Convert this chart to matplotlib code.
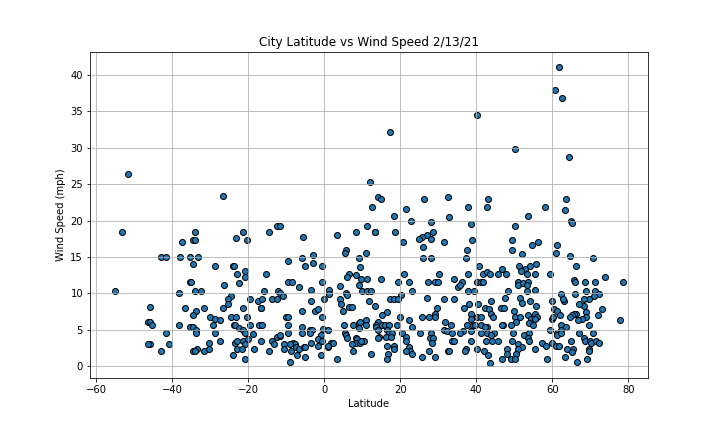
import matplotlib
matplotlib.use('Agg')
import matplotlib.pyplot as plt

# values, grouped roughly left to right
lat_south = [-53.2, -55, -46, -46.5, -46, -45.5, -41.6, -46, -46.5, -42.9, -40.9, -42.9, -41.6, -37.9, -35.3, -33.2,
             -37.6, -34.5, -34, -34, -34.7, -35.3, -35, -38.4, -34, -32.6, -36.8, -33.7, -31.8, -34.5, -38.2, -35.3,
             -34.7, -33.7, -33.7, -33.4, -34.7, -34, -31.6, -30.5, -30.3, -28.7, -26.3, -24.7, -25.3, -25.5, -26.8,
             -30, -28.7, -27.6, -29.2, -28.7, -27.4, -24.1, -23.7, -22.9, -22.4, -20.8, -20.8, -23.2, -21.3, -20.3,
             -14.7, -12.4, -15.3, -21.3, -19.5, -17.6, -16.3, -16.6, -16.8, -15.8, -13.7, -12.6, -12.1, -24.7, -23.2,
             -20.3, -23.7, -23.4, -22.6, -21.3, -21, -19.5, -17.1, -16.3, -23.4, -22.9, -21.3, -20, -18.7, -16.8, -21,
             -22.9, -21.6, -18.4, -14.7, -24.1, -20.8, -13.7, -13.2, -12.4, -11.7, -26.6, -51.8]
wind_south = [18.4, 10.3, 8.05, 6, 6, 5.7, 4.6, 3, 3, 2, 3, 15, 15, 15, 15, 15,
              17, 17.3, 17.3, 18.4, 14, 11.5, 11.5, 10.1, 10.3, 10.3, 8, 7.6, 8, 7, 5.7, 5.4,
              5.3, 4.9, 4.6, 2.4, 2, 2, 2, 3.1, 2.3, 13.7, 11.1, 9.6, 9.2, 8.5, 8,
              6.8, 6.5, 6.3, 5.7, 4.6, 3.5, 13.7, 13.7, 12.6, 11.4, 13, 12.3, 17.6, 18.4, 17.3,
              18.4, 19.2, 12.6, 8, 9.2, 9, 9.2, 8, 8, 10.3, 9.2, 9.2, 10.3, 6.8, 6.8,
              6.8, 5.6, 5.7, 5.2, 4.9, 4.6, 5.7, 5.7, 5.7, 3.2, 3.4, 3.5, 3.7, 4.4, 3.4, 3,
              2.3, 2.3, 2.3, 2, 1.5, 1, 3.4, 3, 4, 4.1, 23.4, 26.4]

lat_mid = [17.4, 12.1, 14, 15, 12.6, 26.3, 32.6, 21.6, 18.4, 22.9, 28.2, 32.9, -11.66, -5.5, 3.2, 8.4, 11.3, 13.2, 13.4,
           18.7, 28.7, 26.9, 25.8, 25, 28.2, 20.8, 31.6, 26, 26, 28.2, 5.8, 5.5, 11, 9, -2.9, -5.8, -9.7, -2.9, -5, -0.5,
           9.5, 6.6, 6, 8.2, 9.7, 11.3, 15, 21, 19.5, 22.4, 27.4, 29, 30.3, 30, 34, 35.3, -9.5, -8.4, -0.5, -6.6, -3.4,
           1.3, 1.3, 4.2, 9, 10, 11.3, 12.4, 5.8, 6, 23.2, 20.3, 27.1, 31.6, 34.2, -11.66, -11, -3.4, 0, 4.2, 4.5, 11.8,
           17.4, 18.4, 19.5, 13.4, 6.6, 7.4, 5, -6, -2.4, -1.8, 29.7, 29.2, 25.8, 27.6, 29.2, 16.6, 15.3, 20, -10, -9.7,
           -0.7, 22.4, 31.8, 33.4, -9.7, -5.8, -3.7, -3.2, -0.3, 1, 5.3, 7.6, 9.2, 9.5, 11, 11, 9.2, 14, 13.7, 15.3, 16,
           17.1, 19, 13.7, 14, 23.2, 31.6, 32.4, -9.5, -6, -3.7, -0.8, 5.5, 5.8, 6, 14.5, 14, 16.6, 17.1, 17.9, 16.3,
           17.6, 20.5, 21.6, 25.3, 28.2, 27.9, 28.7, 33.7, -11.66, -1.6, -0.5, -3.4, -10.5, -10.5, -8.2, -7.6, -9, -8.7,
           -7.4, -6.6, -5.3, -5, -1.8, 1, 1.8, 2.4, 8.2, 8.7, 8.4, 9.5, 10.5, 7.4, 9.7, 7.6, 16.6, 18.4, 18.2, 21.6, 22.4,
           22.6, 21.6, 23.2, 28.4, 27.6, 32.6, 32.9, 33.7, 34.2, 25.8, 29, 16.8, 16.6, 12.4, 3.4, -0.8, -5, -7.1, -9, 1]
wind_mid = [32.2, 25.3, 23.3, 22.9, 21.8, 22.9, 23.3, 21.6, 20.6, 19.9, 19.8, 20.5, 19.2, 17.8, 18, 18.4, 19.2, 18.4, 18.4,
            18.4, 18.4, 18, 17.8, 17.4, 17.4, 17.1, 17.1, 16.4, 14.9, 14.9, 16, 15.6, 15.5, 14.8, 15.2, 14.9, 14.5, 14.1, 13.7, 13.7,
            13.6, 12.6, 12.2, 12.5, 12, 12, 12, 12.6, 11.5, 11.5, 11.5, 11.5, 12.6, 11.5, 12, 10.8, 11.5, 11.5, 11.5, 10.8, 10.5,
            10.4, 9.9, 11, 11.1, 10.3, 10.3, 10.3, 10.1, 9.7, 10.3, 9.7, 9.4, 9.2, 9.2, 10.1, 9.6, 9, 9.2, 9.2, 8.5, 9,
            9.2, 9.2, 9.2, 8.2, 8.1, 8.1, 7.5, 7.5, 7.6, 7.8, 8, 7.2, 6.8, 6.8, 6.7, 7.4, 7, 6.8, 6.8, 6.8,
            6.8, 6.3, 6.1, 5.7, 5.6, 5.3, 5, 4.9, 5.1, 5, 5.7, 5.7, 5.9, 6, 6.3, 5.6, 5.2, 6.1, 5.6, 5.7, 5.7,
            5.7, 5.6, 5.3, 4.9, 5.3, 5, 4.8, 4.5, 4.5, 4.6, 4.3, 4.6, 4.3, 3.9, 4, 3.8, 4.9, 4.5, 4.5, 4,
            4, 4.6, 4, 4.5, 4.6, 3.8, 3.8, 4.5, 4.2, 3.7, 3.5, 3.2, 3, 2.4, 3.1, 3, 3, 2.1,
            2.6, 2.4, 2.6, 2.6, 2.7, 2.6, 3.2, 3.2, 3.9, 3.7, 3.2, 3.2, 3.5, 3, 3.5, 2.1, 2.8, 2.8, 2.4, 3.4, 2.6,
            2.1, 2, 1.7, 3.1, 2.1, 2.1, 2.1, 3.4, 3.4, 1.3, 1.2, 1.6, 1, 1.7, 1, 1.5, 1.2, 1.5, 0.6, 2.8]

lat_north = [61.8, 60.8, 62.6, 40.3, 50.3, 64.5, 43.2, 63.7, 37.9, 42.9, 58.2, 63.4, 53.7, 65, 65.3, 38.7, 50.3,
             38.9, 49.5, 49.5, 37.6, 37.4, 56.3, 54.7, 61.3, 61, 52.1, 64.7, 70.8, 66.3, 40.8, 46.8, 51.3, 52.9, 54.2,
             55.8, 51.8, 37.9, 41.8, 42.9, 43.7, 45.8, 47.9, 53.4, 55.5, 59.5, 51, 51, 52.4, 53.7, 53.4, 55.5, 53.4,
             36.3, 35.7, 40.3, 41.3, 41.8, 37.9, 39.5, 48.4, 47.6, 65.8, 66, 68.7, 71.3, 73.9, 78.7, 62.4, 66, 68.9,
             71.3, 72.4, 71, 69.7, 68.4, 68.4, 67.1, 63.2, 62.9, 60, 43.9, 51.6, 52.1, 54.2, 55.8, 38.2, 36.8, 40.5,
             42.4, 43.4, 43.9, 44.5, 46.6, 47.4, 50, 60.5, 61.3, 62.1, 73.2, 72.1, 68.9, 66.3, 65.8, 65.3, 64.7, 68.9,
             67.9, 66.8, 69.7, 77.9, 38.7, 38.7, 40.3, 41.3, 50.3, 51.6, 53.7, 55.5, 56, 54.5, 55.5, 50.5, 49.2, 53.9,
             55, 47.1, 46.8, 42.9, 60, 60.3, 62.4, 63.7, 59.5, 62.4, 39.2, 37.6, 39.7, 41.3, 42.4, 49.7, 41.3, 42.9,
             44.7, 38.7, 36.6, 35.7, 52.6, 53.9, 53.7, 61.3, 61.3, 62.4, 67.1, 68.4, 70.8, 68.7, 43.9, 42.6, 44.2, 45.8,
             38.7, 49.5, 53.9, 65, 70, 70.3, 71.6, 72.4, 57.4, 58.4, 60, 61, 61.8, 51, 52.1, 51, 55.5, 48.2, 40.3, 37.2,
             36.9, 42.1, 69.7, 69.7, 64, 65.5, 65.3, 43.2, 48.2, 50.5, 46.8, 49.2, 50.3, 58.7, 63.4, 66.6, 69.2, 43.7]
wind_north = [41.1, 37.9, 36.8, 34.5, 29.8, 28.7, 22.9, 22.9, 21.8, 21.8, 21.8, 21.5, 20.6, 20, 19.6, 19.5, 19.3,
              17.3, 17.3, 16, 16, 14.9, 17, 16.6, 16.7, 15.6, 15.4, 15.1, 14.9, 13.7, 13.7, 13.4, 13.7, 13.4, 13.7,
              14, 13, 12.6, 12.6, 12.9, 12.6, 12.6, 12.6, 12.6, 12.6, 12.6, 11.5, 11.1, 11.4, 11.5, 11.1, 10.5, 10.3,
              11.5, 11.2, 11.5, 11.5, 11.5, 10.3, 10.3, 10.3, 9.4, 11.8, 11.5, 11.5, 11.5, 12.2, 11.5, 9.9, 9.9, 10.3,
              10.3, 9.9, 9.6, 9.2, 9.2, 8.3, 8.5, 9, 9.2, 8.9, 9, 9.3, 8.6, 9, 8.3, 8.5, 8, 8.5,
              8, 7.8, 7.2, 6.8, 8, 8, 7.5, 7.8, 7.5, 7, 7.8, 7, 7.4, 7.2, 7.2, 7, 6.8, 6.8,
              6.4, 6.3, 5.6, 6.3, 7.2, 6.5, 6.8, 6.8, 6.8, 6.8, 7, 7.1, 6.8, 6.5, 6.5, 6, 5.7, 5.9,
              5.7, 5.7, 5.7, 5.3, 6.5, 6.7, 5.7, 5.3, 5, 5, 5.7, 5.6, 5.7, 5.7, 5.3, 4.6, 4.6, 4.6,
              4.6, 4.8, 4.8, 4.6, 4.3, 4.6, 3.9, 4.5, 4.2, 4.5, 4.5, 3.9, 4.6, 3.5, 4.2, 3.4, 3.4, 3.4,
              3.4, 3.4, 3.5, 3.4, 3.4, 3.1, 3.4, 3.1, 3.1, 2.8, 3.1, 2.7, 2.8, 3, 2.6, 2.3, 2.3, 2.3, 2.3, 2.3,
              2.1, 2.1, 2.4, 2, 2.3, 2.3, 1.9, 1.5, 1.7, 1.6, 1, 1, 1, 1, 1.3, 0.6, 1, 0.4]

lat = lat_south + lat_mid + lat_north
wind = wind_south + wind_mid + wind_north

fig, ax = plt.subplots(figsize=(10, 6), dpi=72)
fig.subplots_adjust(left=0.125, right=0.9, top=0.88, bottom=0.125)

ax.scatter(lat, wind, edgecolors='black')
ax.set_title('City Latitude vs Wind Speed 2/13/21')
ax.set_xlabel('Latitude')
ax.set_ylabel('Wind Speed (mph)')
ax.set_xlim(-61.7, 85.2)
ax.set_ylim(-1.65, 43.2)
ax.grid(True)

fig.savefig('out.png', dpi=72)
